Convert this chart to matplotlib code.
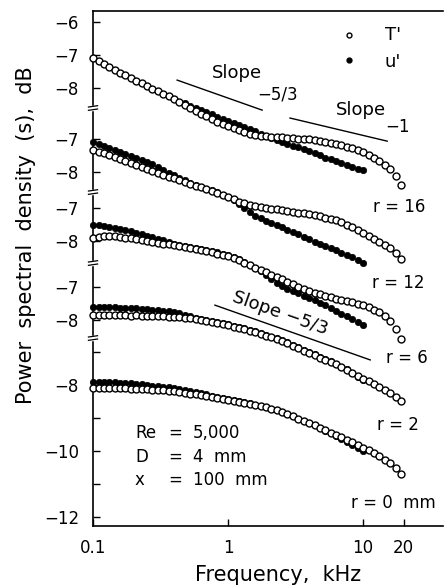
"""Power spectra of temperature and velocity fluctuations across a heated jet."""

import matplotlib.pyplot as plt
import matplotlib.transforms as mtransforms
from matplotlib.ticker import NullLocator

# analyser frequencies (kHz); u' was only recorded up to 10 kHz
FREQ_KHZ = [
    0.100, 0.110, 0.120, 0.132, 0.145, 0.158, 0.174, 0.191, 0.209, 0.229,
    0.251, 0.275, 0.302, 0.331, 0.363, 0.398, 0.437, 0.479, 0.525, 0.575,
    0.631, 0.692, 0.759, 0.832, 0.912, 1.00, 1.10, 1.20, 1.32, 1.45,
    1.58, 1.74, 1.91, 2.09, 2.29, 2.51, 2.75, 3.02, 3.31, 3.63,
    3.98, 4.37, 4.79, 5.25, 5.75, 6.31, 6.92, 7.59, 8.32, 9.12,
    10.0, 11.0, 12.0, 13.2, 14.5, 15.8, 17.4, 19.1,
]

R_LABELS = ["r = 16", "r = 12", "r = 6", "r = 2", "r = 0  mm"]

# spectral levels, one list per radial station
T_R16 = [
    -7.09, -7.18, -7.27, -7.36, -7.45, -7.55, -7.62, -7.70, -7.78, -7.86,
    -7.94, -8.02, -8.10, -8.18, -8.25, -8.33, -8.42, -8.52, -8.61, -8.70,
    -8.79, -8.86, -8.94, -9.02, -9.09, -9.15, -9.21, -9.27, -9.33, -9.38,
    -9.42, -9.44, -9.45, -9.47, -9.48, -9.48, -9.50, -9.52, -9.53, -9.55,
    -9.55, -9.58, -9.61, -9.64, -9.67, -9.70, -9.74, -9.79, -9.83, -9.88,
    -9.94, -10.03, -10.12, -10.21, -10.33, -10.45, -10.67, -10.94,
]
U_R16 = [
    -7.09, -7.18, -7.27, -7.36, -7.45, -7.55, -7.62, -7.70, -7.78, -7.86,
    -7.94, -8.02, -8.10, -8.18, -8.25, -8.33, -8.42, -8.45, -8.55, -8.61,
    -8.67, -8.73, -8.80, -8.88, -8.94, -9.00, -9.06, -9.12, -9.18, -9.24,
    -9.30, -9.38, -9.45, -9.52, -9.58, -9.64, -9.70, -9.76, -9.80, -9.85,
    -9.91, -9.97, -10.03, -10.11, -10.15, -10.21, -10.27, -10.33, -10.39, -10.44,
    -10.48,
]
T_R12 = [
    -7.33, -7.38, -7.42, -7.48, -7.55, -7.61, -7.67, -7.73, -7.79, -7.85,
    -7.91, -7.97, -8.03, -8.09, -8.14, -8.18, -8.24, -8.30, -8.36, -8.41,
    -8.45, -8.52, -8.58, -8.64, -8.70, -8.76, -8.83, -8.91, -8.95, -9.00,
    -9.03, -9.06, -9.08, -9.11, -9.12, -9.15, -9.18, -9.20, -9.23, -9.24,
    -9.27, -9.30, -9.33, -9.38, -9.41, -9.45, -9.53, -9.61, -9.68, -9.76,
    -9.85, -9.94, -10.03, -10.12, -10.21, -10.30, -10.45, -10.64,
]
U_R12 = [
    -7.09, -7.15, -7.21, -7.27, -7.33, -7.39, -7.45, -7.52, -7.58, -7.64,
    -7.70, -7.77, -7.85, -7.94, -8.02, -8.09, -8.17, -8.24, -8.32, -8.38,
    -8.44, -8.50, -8.56, -8.62, -8.70, -8.77, -8.86, -8.97, -9.09, -9.21,
    -9.32, -9.39, -9.47, -9.55, -9.61, -9.68, -9.76, -9.82, -9.89, -9.97,
    -10.03, -10.11, -10.17, -10.24, -10.30, -10.36, -10.44, -10.52, -10.59, -10.67,
    -10.76,
]
T_R6 = [
    -7.91, -7.88, -7.86, -7.85, -7.86, -7.88, -7.91, -7.92, -7.94, -7.97,
    -8.00, -8.03, -8.05, -8.08, -8.09, -8.12, -8.15, -8.18, -8.21, -8.24,
    -8.27, -8.30, -8.33, -8.38, -8.41, -8.45, -8.52, -8.59, -8.67, -8.74,
    -8.82, -8.88, -8.95, -9.02, -9.09, -9.15, -9.23, -9.30, -9.38, -9.45,
    -9.52, -9.58, -9.62, -9.67, -9.71, -9.76, -9.79, -9.83, -9.86, -9.91,
    -9.94, -10.00, -10.08, -10.15, -10.27, -10.42, -10.67, -10.97,
]
U_R6 = [
    -7.52, -7.53, -7.55, -7.58, -7.61, -7.64, -7.67, -7.71, -7.76, -7.80,
    -7.85, -7.89, -7.94, -7.98, -8.03, -8.08, -8.12, -8.15, -8.18, -8.21,
    -8.24, -8.27, -8.30, -8.33, -8.38, -8.42, -8.48, -8.56, -8.64, -8.73,
    -8.82, -8.92, -9.03, -9.15, -9.26, -9.36, -9.44, -9.52, -9.59, -9.67,
    -9.73, -9.80, -9.88, -9.95, -10.03, -10.12, -10.20, -10.27, -10.36, -10.45,
    -10.55,
]
T_R2 = [
    -7.85, -7.84, -7.86, -7.85, -7.84, -7.86, -7.85, -7.87, -7.86, -7.88,
    -7.87, -7.88, -7.89, -7.89, -7.91, -7.91, -7.92, -7.94, -7.95, -7.97,
    -8.00, -8.03, -8.06, -8.09, -8.12, -8.15, -8.20, -8.24, -8.27, -8.32,
    -8.36, -8.42, -8.47, -8.53, -8.58, -8.64, -8.71, -8.79, -8.86, -8.94,
    -9.00, -9.06, -9.14, -9.20, -9.27, -9.33, -9.42, -9.52, -9.61, -9.70,
    -9.79, -9.86, -9.94, -10.03, -10.12, -10.21, -10.33, -10.45,
]
U_R2 = [
    -7.61, -7.61, -7.61, -7.62, -7.62, -7.64, -7.64, -7.65, -7.65, -7.67,
    -7.68, -7.70, -7.71, -7.73, -7.74, -7.77, -7.80, -7.85, -7.89, -7.94,
    -7.97, -8.00, -8.03, -8.06, -8.09, -8.12, -8.17, -8.21, -8.24, -8.29,
    -8.33, -8.39, -8.44, -8.50, -8.55, -8.61, -8.68, -8.76, -8.83, -8.91,
    -8.97, -9.03, -9.11, -9.17, -9.24, -9.32, -9.41, -9.50, -9.62, -9.73,
    -9.82,
]
T_R0 = [
    -8.09, -8.09, -8.08, -8.09, -8.10, -8.09, -8.09, -8.11, -8.11, -8.12,
    -8.12, -8.14, -8.15, -8.15, -8.17, -8.18, -8.21, -8.23, -8.26, -8.27,
    -8.30, -8.33, -8.36, -8.39, -8.42, -8.45, -8.48, -8.52, -8.55, -8.58,
    -8.61, -8.64, -8.68, -8.73, -8.77, -8.82, -8.88, -8.95, -9.03, -9.09,
    -9.15, -9.21, -9.29, -9.36, -9.44, -9.52, -9.59, -9.67, -9.74, -9.82,
    -9.91, -9.98, -10.06, -10.15, -10.26, -10.36, -10.52, -10.70,
]
U_R0 = [
    -7.91, -7.91, -7.91, -7.92, -7.92, -7.94, -7.94, -7.95, -7.97, -7.98,
    -8.00, -8.02, -8.03, -8.05, -8.06, -8.09, -8.12, -8.15, -8.18, -8.21,
    -8.24, -8.27, -8.32, -8.35, -8.38, -8.42, -8.45, -8.48, -8.52, -8.56,
    -8.61, -8.64, -8.68, -8.73, -8.77, -8.82, -8.88, -8.95, -9.03, -9.09,
    -9.15, -9.21, -9.29, -9.38, -9.45, -9.55, -9.64, -9.73, -9.82, -9.91,
    -10.00,
]

T_SPECTRA = [T_R16, T_R12, T_R6, T_R2, T_R0]
U_SPECTRA = [U_R16, U_R12, U_R6, U_R2, U_R0]

# reference slopes: (f start, f end, level start, level end, station index)
SLOPE_GUIDES = [
    (0.42, 1.79, -7.76, -8.67, 0),
    (2.88, 15.1, -8.91, -9.61, 0),
    (0.80, 11.3, -7.55, -9.21, 3),
]

# ticks shown on each stacked sub-axis: (level, labelled?)
SECTION_TICKS = [
    [(-6, True), (-7, True), (-8, True)],
    [(-7, True), (-8, True)],
    [(-7, True), (-8, True)],
    [(-7, True), (-8, True)],
    [(-7, False), (-8, True), (-9, False), (-10, True), (-11, False), (-12, True)],
]

# vertical shift of each station on the shared axis, and axis breaks
SECTION_SHIFT = [9.0, 6.455, 4.364, 1.97, 0.0]
BREAKS = [0.394, -2.152, -4.303, -6.576]


def draw_breaks(ax):
    """Cut the left spine and draw the little double-slash marks."""
    trans = mtransforms.blended_transform_factory(ax.transAxes, ax.transData)
    for yb in BREAKS:
        ax.plot([0, 0], [yb - 0.04, yb + 0.04], color="white", lw=2.5,
                transform=trans, clip_on=False, zorder=5)
        for dy in (-0.05, 0.05):
            ax.plot([-0.013, 0.013], [yb + dy - 0.02, yb + dy + 0.02],
                    color="black", lw=0.9, transform=trans, clip_on=False,
                    zorder=6)


def main():
    plt.rcParams["font.family"] = "DejaVu Sans"
    fig = plt.figure(figsize=(4.45, 5.87), dpi=100)
    ax = fig.add_axes([0.209, 0.1039, 0.7865, 0.8773])

    for t_vals, u_vals, shift in zip(T_SPECTRA, U_SPECTRA, SECTION_SHIFT):
        ax.plot(FREQ_KHZ[:len(u_vals)], [v + shift for v in u_vals],
                ls="none", marker="o", ms=4.6, mfc="black", mec="black",
                mew=0.5, clip_on=False, zorder=2)
        ax.plot(FREQ_KHZ[:len(t_vals)], [v + shift for v in t_vals],
                ls="none", marker="o", ms=5.0, mfc="white", mec="black",
                mew=1.0, clip_on=False, zorder=3)

    for f0, f1, v0, v1, idx in SLOPE_GUIDES:
        shift = SECTION_SHIFT[idx]
        ax.plot([f0, f1], [v0 + shift, v1 + shift], color="black", lw=1.0,
                zorder=4)

    ax.set_xscale("log")
    ax.set_xlim(0.1, 39.1)
    ax.set_ylim(-12.273, 3.333)

    ax.set_xticks([0.1, 1, 10, 20], ["0.1", "1", "10", "20"])
    ax.xaxis.set_minor_locator(NullLocator())

    ypos, ylab = [], []
    for ticks, shift in zip(SECTION_TICKS, SECTION_SHIFT):
        for level, shown in ticks:
            ypos.append(level + shift)
            ylab.append(f"\u2212{abs(level)}" if shown else "")
    ax.set_yticks(ypos, ylab)

    ax.tick_params(axis="both", direction="in", length=5, width=1.0,
                   labelsize=12)
    ax.tick_params(axis="y", pad=10)
    ax.tick_params(axis="x", pad=9)
    ax.tick_params(top=False, right=False)
    for side in ("left", "bottom", "top"):
        ax.spines[side].set_linewidth(1.2)
    ax.spines["right"].set_visible(False)

    draw_breaks(ax)

    ax.set_xlabel("Frequency,  kHz", fontsize=15)
    ax.xaxis.set_label_coords(0.529, -0.076)
    ax.set_ylabel("Power  spectral  density  (s),  dB", fontsize=15)
    ax.yaxis.set_label_coords(-0.163, 0.565)

    # legend drawn by hand in the upper right corner
    ax.plot([0.731], [0.953], ls="none", marker="o", ms=3.5, mfc="white",
            mec="black", mew=1.0, transform=ax.transAxes, clip_on=False)
    ax.plot([0.731], [0.905], ls="none", marker="o", ms=3.5, mfc="black",
            mec="black", transform=ax.transAxes, clip_on=False)
    ax.text(0.857, 0.953, "T'", transform=ax.transAxes, fontsize=13,
            ha="center", va="center")
    ax.text(0.857, 0.901, "u'", transform=ax.transAxes, fontsize=13,
            ha="center", va="center")

    ax.text(0.411, 0.880, "Slope", transform=ax.transAxes, fontsize=13,
            ha="center", va="center")
    ax.text(0.526, 0.837, "\u22125/3", transform=ax.transAxes, fontsize=12,
            ha="center", va="center")
    ax.text(0.766, 0.808, "Slope", transform=ax.transAxes, fontsize=13,
            ha="center", va="center")
    ax.text(0.871, 0.775, "\u22121", transform=ax.transAxes, fontsize=12,
            ha="center", va="center")
    ax.text(0.534, 0.414, "Slope \u22125/3", transform=ax.transAxes,
            fontsize=13, ha="center", va="center", rotation=-19.5)

    for label, (fx, fy) in zip(R_LABELS, [(0.874, 0.619), (0.871, 0.472),
                                          (0.897, 0.326), (0.871, 0.196),
                                          (0.857, 0.045)]):
        ax.text(fx, fy, label, transform=ax.transAxes, fontsize=12,
                ha="center", va="center")

    for name, value, fy in [("Re", "5,000", 0.181), ("D", "4  mm", 0.134),
                            ("x", "100  mm", 0.089)]:
        ax.text(0.12, fy, name, transform=ax.transAxes, fontsize=12,
                ha="left", va="center")
        ax.text(0.234, fy, "=", transform=ax.transAxes, fontsize=12,
                ha="center", va="center")
        ax.text(0.286, fy, value, transform=ax.transAxes, fontsize=12,
                ha="left", va="center")

    fig.savefig("out.png", dpi=100)
    plt.close(fig)


if __name__ == "__main__":
    main()
